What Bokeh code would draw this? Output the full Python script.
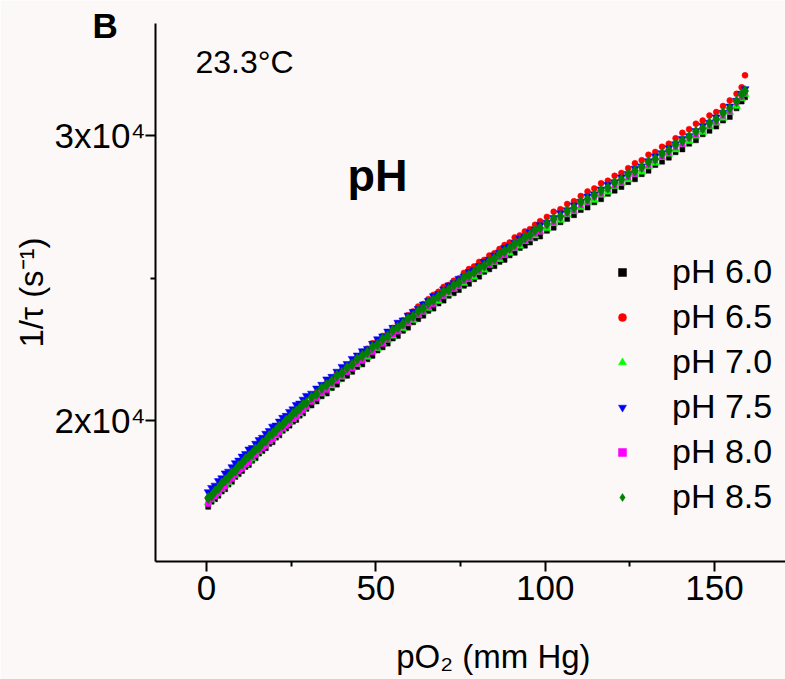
from bokeh.plotting import figure
from bokeh.models import FixedTicker, Label, Range1d
from bokeh.embed import file_html
from bokeh.resources import INLINE

# ---- data ----
po2 = [0.5, 1.5, 2.5, 3.5, 4.5, 5.5, 6.5, 7.5, 8.5, 9.5,
       10.5, 11.5, 12.5, 13.5, 14.5, 15.5, 16.5, 17.5, 18.5, 19.5,
       20.5, 21.5, 22.5, 23.5, 24.5, 25.5, 26.5, 27.5, 28.5, 29.5,
       31, 32.5, 34, 35.5, 37, 38.5, 40, 41.5, 43, 44.5,
       46, 47.5, 49, 50.5, 52, 53.5, 55, 56.5, 58, 59.5,
       61, 62.5, 64, 65.5, 67, 68.5, 70, 71.5, 73, 74.5,
       76, 77.5, 79, 80.5, 82, 83.5, 85, 86.5, 88, 89.5,
       91, 92.5, 94, 95.5, 97, 98.5,
       100.5, 102.5, 104.5, 106.5, 108.5, 110.5, 112.5, 114.5, 116.5, 118.5,
       120.5, 122.5, 124.5, 126.5, 128.5, 130.5, 132.5, 134.5, 136.5, 138.5,
       140.5, 142.5, 144.5, 146.5, 148.5, 150.5, 152.5, 154.5, 156.5, 158, 159]

ph60 = [16970, 17150, 17240, 17360, 17510, 17590, 17750, 17850, 18020, 18120,
        18230, 18370, 18440, 18590, 18680, 18840, 18930, 19030, 19180, 19240,
        19400, 19480, 19640, 19720, 19820, 19960, 20020, 20170, 20250, 20410,
        20530, 20670, 20850, 20950, 21140, 21260, 21460, 21570, 21710, 21880,
        21970, 22150, 22270, 22460, 22570, 22700, 22880, 22970, 23150, 23260,
        23450, 23560, 23680, 23850, 23930, 24110, 24210, 24380, 24470, 24580,
        24730, 24800, 24960, 25050, 25220, 25310, 25420, 25570, 25640, 25800,
        25890, 26060, 26140, 26250, 26400, 26460,
        26660, 26770, 26960, 27080, 27210, 27390, 27480, 27660, 27770, 27960,
        28070, 28200, 28370, 28470, 28650, 28770, 28970, 29090, 29230, 29420,
        29520, 29720, 29840, 30050, 30170, 30320, 30530, 30660, 30960, 31200, 31350]

ph65 = [17270, 17350, 17500, 17590, 17740, 17890, 17980, 18150, 18220, 18380,
        18460, 18600, 18740, 18820, 18980, 19040, 19190, 19260, 19410, 19540,
        19630, 19780, 19840, 19980, 20050, 20190, 20320, 20400, 20550, 20610,
        20860, 20970, 21150, 21320, 21440, 21660, 21760, 21930, 22040, 22210,
        22410, 22520, 22710, 22800, 22970, 23070, 23250, 23410, 23520, 23700,
        23830, 24000, 24090, 24260, 24410, 24520, 24690, 24760, 24910, 24990,
        25180, 25320, 25410, 25570, 25640, 25790, 25870, 26020, 26160, 26250,
        26430, 26500, 26640, 26720, 26870, 27000,
        27150, 27330, 27420, 27600, 27700, 27880, 28040, 28150, 28330, 28420,
        28590, 28690, 28860, 29030, 29140, 29330, 29430, 29610, 29720, 29910,
        30100, 30230, 30420, 30530, 30710, 30830, 31040, 31240, 31470, 31700, 32120]

ph70 = [17120, 17220, 17390, 17490, 17600, 17760, 17830, 18000, 18090, 18270,
        18360, 18460, 18610, 18670, 18830, 18910, 19080, 19160, 19270, 19410,
        19480, 19630, 19710, 19870, 19950, 20050, 20190, 20250, 20400, 20480,
        20680, 20800, 20940, 21120, 21220, 21410, 21530, 21720, 21840, 21970,
        22140, 22230, 22420, 22530, 22720, 22830, 22970, 23140, 23230, 23410,
        23520, 23710, 23810, 23940, 24100, 24190, 24360, 24450, 24620, 24710,
        24820, 24970, 25040, 25200, 25290, 25460, 25550, 25660, 25810, 25880,
        26040, 26130, 26290, 26380, 26490, 26630,
        26740, 26920, 27030, 27230, 27340, 27480, 27650, 27740, 27920, 28030,
        28220, 28330, 28460, 28640, 28730, 28920, 29040, 29240, 29360, 29510,
        29690, 29800, 29990, 30120, 30320, 30450, 30620, 30830, 31040, 31300, 31460]

ph75 = [17490, 17640, 17720, 17880, 17980, 18150, 18210, 18370, 18510, 18600,
        18740, 18830, 18990, 19040, 19190, 19320, 19400, 19540, 19640, 19790,
        19830, 19970, 20100, 20170, 20310, 20400, 20550, 20600, 20740, 20870,
        20950, 21130, 21260, 21450, 21540, 21720, 21890, 21990, 22170, 22290,
        22440, 22520, 22700, 22860, 22960, 23130, 23260, 23440, 23520, 23690,
        23820, 23920, 24080, 24200, 24370, 24450, 24610, 24750, 24830, 24980,
        25060, 25220, 25280, 25430, 25570, 25650, 25800, 25900, 26060, 26120,
        26250, 26390, 26460, 26610, 26710, 26860,
        26950, 27120, 27280, 27390, 27560, 27690, 27870, 27950, 28120, 28280,
        28370, 28540, 28660, 28850, 28930, 29110, 29280, 29390, 29570, 29710,
        29890, 29990, 30170, 30350, 30460, 30650, 30810, 31030, 31230, 31480, 31640]

ph80 = [17070, 17230, 17330, 17440, 17590, 17680, 17860, 17950, 18100, 18210,
        18310, 18450, 18530, 18700, 18780, 18920, 19020, 19110, 19260, 19330,
        19510, 19580, 19720, 19810, 19900, 20040, 20110, 20280, 20350, 20490,
        20650, 20780, 20960, 21070, 21280, 21390, 21570, 21690, 21820, 21990,
        22090, 22290, 22400, 22570, 22690, 22840, 23020, 23120, 23320, 23420,
        23590, 23700, 23820, 23990, 24080, 24280, 24370, 24520, 24620, 24720,
        24890, 24970, 25150, 25230, 25380, 25480, 25580, 25730, 25810, 25990,
        26070, 26220, 26310, 26410, 26560, 26630,
        26860, 26960, 27130, 27260, 27380, 27560, 27660, 27860, 27960, 28130,
        28250, 28370, 28540, 28650, 28850, 28960, 29140, 29270, 29400, 29590,
        29700, 29920, 30030, 30220, 30350, 30490, 30700, 30840, 31160, 31340, 31510]

ph85 = [17280, 17360, 17520, 17620, 17790, 17890, 18000, 18160, 18230, 18400,
        18490, 18650, 18740, 18840, 18990, 19050, 19210, 19290, 19460, 19540,
        19650, 19790, 19850, 20000, 20080, 20240, 20320, 20420, 20560, 20620,
        20810, 20930, 21130, 21250, 21390, 21570, 21670, 21850, 21970, 22160,
        22270, 22400, 22580, 22670, 22850, 22960, 23160, 23270, 23400, 23570,
        23660, 23840, 23940, 24130, 24230, 24360, 24520, 24590, 24750, 24840,
        25010, 25100, 25210, 25360, 25430, 25590, 25680, 25850, 25940, 26050,
        26200, 26270, 26420, 26510, 26680, 26760,
        26910, 27080, 27170, 27360, 27470, 27670, 27780, 27910, 28080, 28170,
        28350, 28460, 28650, 28770, 28900, 29080, 29180, 29370, 29490, 29700,
        29820, 29970, 30150, 30260, 30450, 30580, 30810, 30960, 31210, 31460, 31570]

series_labels = ["pH 6.0", "pH 6.5", "pH 7.0", "pH 7.5", "pH 8.0", "pH 8.5"]
series_values = [ph60, ph65, ph70, ph75, ph80, ph85]

x_ticks = [0, 50, 100, 150]
x_minor = [25, 75, 125]
y_ticks = [20000, 30000]
y_minor = [25000]
y_tick_text = {20000: "2x10\u2074", 30000: "3x10\u2074"}

# ---- styling ----
FONT = "Liberation Sans"
BG = "#fcf8f8"
styles = [
    dict(marker="square", color="#000000", size=5),
    dict(marker="circle", color="#ff0000", size=6),
    dict(marker="triangle", color="#00ff00", size=8),
    dict(marker="inverted_triangle", color="#0000ff", size=8),
    dict(marker="square", color="#ff00ff", size=5),
    dict(marker="diamond", color="#008000", size=11),
]

p = figure(width=785, height=679, output_backend="svg", toolbar_location=None,
           x_range=Range1d(-15.06, 170.95), y_range=Range1d(15050, 33940),
           min_border_left=155, min_border_right=0, min_border_top=23,
           min_border_bottom=118, title="B", title_location="above")
p.background_fill_color = BG
p.border_fill_color = BG
p.outline_line_color = None
p.grid.visible = False

# panel letter "B" (title pulled down beside the top of the y axis)
p.title.align = "left"
p.title.offset = -63
p.title.standoff = -43
p.title.text_font = FONT
p.title.text_font_size = "35px"
p.title.text_font_style = "bold"
p.title.text_color = "black"

for lbl, vals, st in zip(series_labels, series_values, styles):
    p.scatter(po2, vals, marker=st["marker"], size=st["size"],
              fill_color=st["color"], line_color=st["color"], line_width=0.5,
              legend_label=lbl)

for ax in (p.xaxis[0], p.yaxis[0]):
    ax.axis_line_width = 2
    ax.axis_line_color = "black"
    ax.major_tick_line_width = 2
    ax.minor_tick_line_width = 2
    ax.major_tick_in = 0
    ax.major_tick_out = 10
    ax.minor_tick_in = 0
    ax.minor_tick_out = 5
    ax.major_label_text_font = FONT
    ax.major_label_text_font_size = "35px"
    ax.major_label_text_color = "black"
    ax.axis_label_text_font = FONT
    ax.axis_label_text_font_size = "33px"
    ax.axis_label_text_font_style = "normal"
    ax.axis_label_text_color = "black"

p.xaxis.ticker = FixedTicker(ticks=x_ticks, minor_ticks=x_minor)
p.xaxis.major_label_standoff = 4
p.xaxis.axis_label = "\u00a0\u00a0\u00a0\u00a0\u00a0pO\u2082 (mm Hg)"
p.xaxis.axis_label_standoff = 35

p.yaxis.ticker = FixedTicker(ticks=y_ticks, minor_ticks=y_minor)
p.yaxis.major_label_overrides = y_tick_text
p.yaxis.major_label_standoff = 0
p.yaxis.axis_label = "1/\u03c4 (s\u207b\u00b9)"
p.yaxis.axis_label_standoff = 2

p.add_layout(Label(x=-3.25, y=32596, text="23.3\u00b0C", text_align="left",
                   text_baseline="alphabetic", text_font=FONT,
                   text_font_size="32px", text_color="black"))
p.add_layout(Label(x=41.6, y=28596, text="pH", text_align="left",
                   text_baseline="alphabetic", text_font=FONT,
                   text_font_size="45px", text_font_style="bold", text_color="black"))

lg = p.legend[0]
lg.location = (457, 45)
lg.label_text_font = FONT
lg.label_text_font_size = "34px"
lg.label_text_color = "black"
lg.glyph_width = 20
lg.glyph_height = 36
lg.label_height = 36
lg.label_standoff = 40
lg.spacing = 6
lg.padding = 0
lg.margin = 0
lg.background_fill_alpha = 0
lg.border_line_alpha = 0

open("out.html", "w").write(file_html(p, INLINE))
